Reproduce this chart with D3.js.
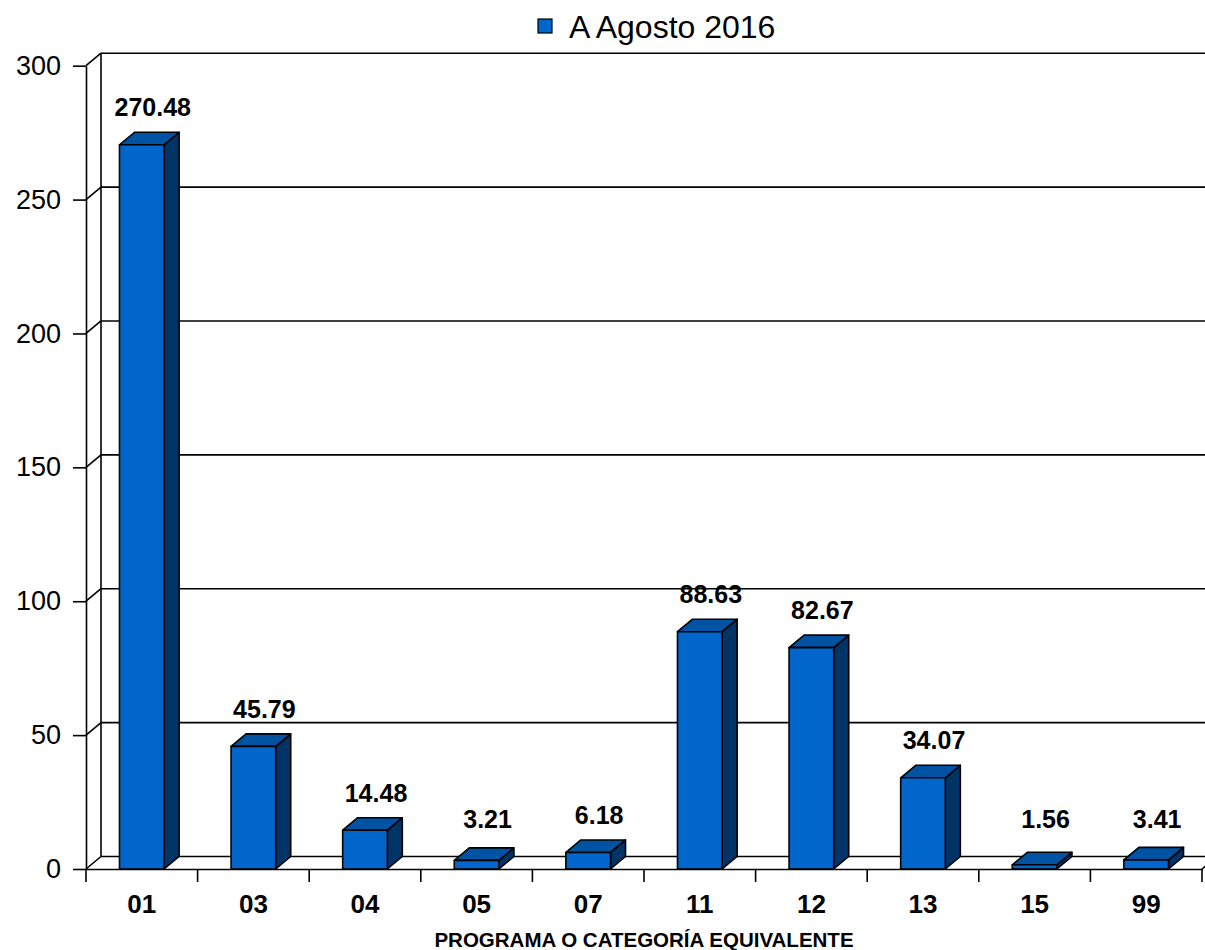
<!DOCTYPE html>
<html lang="es">
<head>
<meta charset="utf-8" />
<script src="https://d3js.org/d3.v7.min.js"></script>
<style>
body { margin: 0; background: #fff; }
svg text { font-family: 'Liberation Sans', Arial, sans-serif; fill: #000; }
</style>
</head>
<body>
<div id="chart"></div>
<script>
// data
var categories = ["01", "03", "04", "05", "07", "11", "12", "13", "15", "99"];
var values = [270.48, 45.79, 14.48, 3.21, 6.18, 88.63, 82.67, 34.07, 1.56, 3.41];
var yTicks = [0, 50, 100, 150, 200, 250, 300];
var seriesName = "A Agosto 2016";
var axisTitle = "PROGRAMA O CATEGORÍA EQUIVALENTE";

var width = 1205, height = 950;
var dx = 15, dy = -12.5;   // 3d depth

var svg = d3.select('#chart')
  .append('svg')
  .attr('width', width)
  .attr('height', height);

var x = d3.scaleBand()
  .domain(categories)
  .range([86, 1202])
  .padding(0);

var y = d3.scaleLinear()
  .domain([0, 300])
  .range([869, 65.7]);

var barW = x.bandwidth() * 0.4;

var walls = svg.append('g')
  .attr('stroke', '#000')
  .attr('stroke-width', 1.6)
  .attr('fill', 'none');

// back wall gridlines
walls.selectAll('.grid')
  .data(yTicks)
  .enter()
  .append('line')
  .attr('x1', 86 + dx)
  .attr('x2', 1202 + dx)
  .attr('y1', function(d) { return y(d) + dy; })
  .attr('y2', function(d) { return y(d) + dy; });

// side wall
walls.append('line')
  .attr('x1', 86 + dx).attr('x2', 86 + dx)
  .attr('y1', y(300) + dy).attr('y2', y(0) + dy);

walls.selectAll('.diag')
  .data(yTicks)
  .enter()
  .append('line')
  .attr('x1', 86)
  .attr('x2', 86 + dx)
  .attr('y1', function(d) { return y(d); })
  .attr('y2', function(d) { return y(d) + dy; });

// floor
walls.append('line')
  .attr('x1', 1202).attr('x2', 1202 + dx)
  .attr('y1', y(0)).attr('y2', y(0) + dy);

// bars
var bars = svg.selectAll('.bar')
  .data(categories)
  .enter()
  .append('g')
  .attr('class', 'bar')
  .attr('stroke', '#000')
  .attr('stroke-width', 1.6)
  .attr('stroke-linejoin', 'round');

function pts(a) {
  return a.map(function(p) { return p.join(','); }).join(' ');
}

bars.each(function(c, i) {
  var g = d3.select(this);
  var x0 = x(c) + (x.bandwidth() - barW) / 2;
  var x1 = x0 + barW;
  var yv = y(values[i]);
  var y0 = y(0);
  g.append('polygon')
    .attr('fill', '#003366')
    .attr('points', pts([[x1, yv], [x1 + dx, yv + dy], [x1 + dx, y0 + dy], [x1, y0]]));
  g.append('polygon')
    .attr('fill', '#0052A3')
    .attr('points', pts([[x0, yv], [x0 + dx, yv + dy], [x1 + dx, yv + dy], [x1, yv]]));
  g.append('rect')
    .attr('fill', '#0066CC')
    .attr('x', x0)
    .attr('y', yv)
    .attr('width', barW)
    .attr('height', y0 - yv);
});

// value labels
svg.selectAll('.val')
  .data(categories)
  .enter()
  .append('text')
  .attr('class', 'val')
  .attr('text-anchor', 'middle')
  .attr('font-size', 25)
  .attr('font-weight', 'bold')
  .attr('x', function(c) { return x(c) + x.bandwidth() / 2 + 11; })
  .attr('y', function(c, i) { return Math.min(y(values[i]) + dy - 16, 828); })
  .text(function(c, i) { return values[i].toFixed(2); });

// y axis
var yAxis = svg.append('g')
  .attr('transform', 'translate(86,0)')
  .call(d3.axisLeft(y).tickValues(yTicks).tickSize(13).tickSizeOuter(0).tickPadding(12));
yAxis.selectAll('path, line').attr('stroke', '#000').attr('stroke-width', 1.6);
yAxis.selectAll('text').attr('font-size', 27).attr('font-family', null).attr('fill', '#000');

// x axis
var xAxis = svg.append('g')
  .attr('transform', 'translate(0,' + y(0) + ')')
  .call(d3.axisBottom(x).tickSize(0).tickPadding(26));
xAxis.select('.domain').attr('stroke', '#000').attr('stroke-width', 1.6);
xAxis.selectAll('text').attr('font-size', 26).attr('font-weight', 'bold').attr('font-family', null).attr('fill', '#000');

xAxis.selectAll('.xt')
  .data(categories.concat(['end']))
  .enter()
  .append('line')
  .attr('stroke', '#000')
  .attr('stroke-width', 1.6)
  .attr('x1', function(c) { return c === 'end' ? x.range()[1] : x(c); })
  .attr('x2', function(c) { return c === 'end' ? x.range()[1] : x(c); })
  .attr('y1', 0)
  .attr('y2', 13);

// axis title
svg.append('text')
  .attr('x', (x.range()[0] + x.range()[1]) / 2)
  .attr('y', 947)
  .attr('text-anchor', 'middle')
  .attr('font-size', 20.5)
  .attr('font-weight', 'bold')
  .text(axisTitle);

// legend
var legend = svg.append('g').attr('class', 'legend');
legend.append('rect')
  .attr('x', 538)
  .attr('y', 19)
  .attr('width', 14)
  .attr('height', 14)
  .attr('fill', '#0066CC')
  .attr('stroke', '#000')
  .attr('stroke-width', 1.2);
legend.append('text')
  .attr('x', 569)
  .attr('y', 38)
  .attr('font-size', 32)
  .text(seriesName);
</script>
</body>
</html>
